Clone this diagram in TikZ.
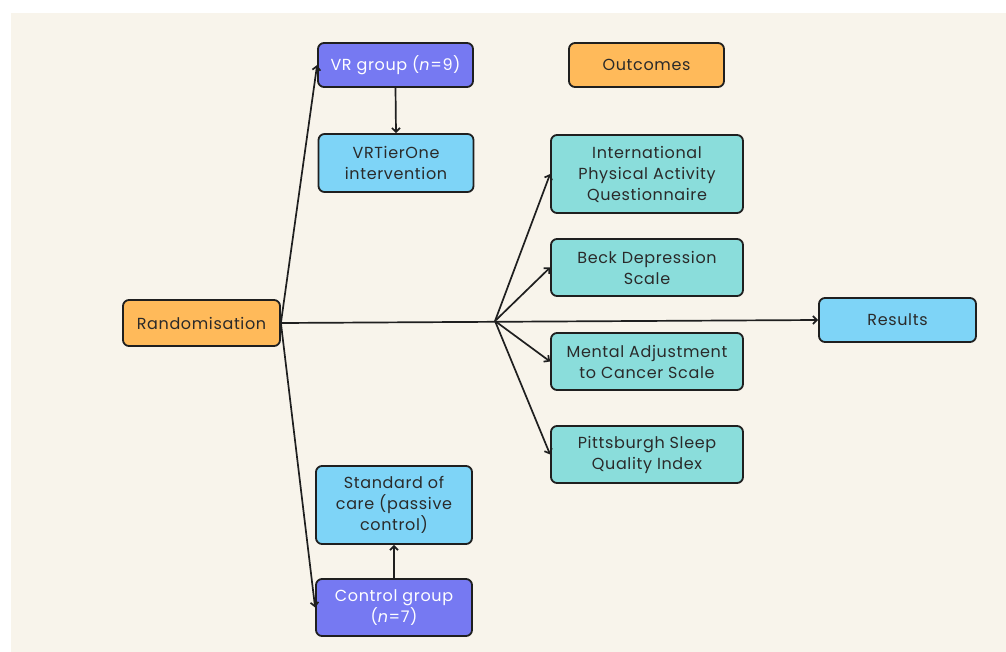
\documentclass[tikz,border=0pt]{standalone}
\usepackage{fontspec}
\setmainfont[LetterSpace=4]{Poppins}
\usetikzlibrary{arrows.meta}
\definecolor{bgc}{HTML}{F8F4EB}
\definecolor{peri}{HTML}{7679F2}
\definecolor{lblue}{HTML}{7ED4F7}
\definecolor{teal2}{HTML}{8ADDDB}
\definecolor{orng}{HTML}{FFBA5A}
\definecolor{edge}{HTML}{1F1F1F}
\definecolor{txt}{HTML}{2A2A2A}
\tikzset{
  box/.style={draw=edge, line width=1.8pt, rounded corners=6pt, align=center,
    font=\fontsize{16}{21}\selectfont, text=txt, inner sep=2pt},
  grp/.style={box, fill=peri, text=white},
  act/.style={box, fill=lblue},
  meas/.style={box, fill=teal2},
  key/.style={box, fill=orng},
  arr/.style={line width=1.7pt, draw=edge, -{Straight Barb[length=4pt,width=8pt]}}
}
\begin{document}
\begin{tikzpicture}[x=1pt,y=-1pt]
\useasboundingbox (0,0) rectangle (1006,652);
\fill[bgc] (11,13) rectangle (1006,652);

\node[key, minimum width=157pt, minimum height=46pt] (rand) at (201.5,323) {Randomisation};
\node[grp, minimum width=155pt, minimum height=44pt] (vr) at (395.5,65) {VR group (\textit{n}=9)};
\node[act, minimum width=155pt, minimum height=58pt] (vrt) at (396,163) {VRTierOne\\intervention};
\node[key, minimum width=155pt, minimum height=44pt] (out) at (646.5,65) {Outcomes};
\node[meas, minimum width=192pt, minimum height=78pt] (ipaq) at (647,174) {International\\Physical Activity\\Questionnaire};
\node[meas, minimum width=192pt, minimum height=57pt] (beck) at (647,267.5) {Beck Depression\\Scale};
\node[meas, minimum width=192pt, minimum height=57pt] (mac) at (647,361.5) {Mental Adjustment\\to Cancer Scale};
\node[meas, minimum width=192pt, minimum height=57pt] (psqi) at (647,454.5) {Pittsburgh Sleep\\Quality Index};
\node[act, minimum width=157pt, minimum height=44pt] (res) at (897.5,320) {Results};
\node[act, minimum width=156pt, minimum height=78pt] (soc) at (394,505) {Standard of\\care (passive\\control)};
\node[grp, minimum width=156pt, minimum height=57pt] (ctrl) at (394,607.5) {Control group\\(\textit{n}=7)};

\coordinate (hub) at (495,321);

\draw[arr] (rand.east) -- (vr.west);
\draw[arr] (rand.east) -- (ctrl.west);
\draw[arr] (rand.east) -- (res.west);
\draw[arr] (vr.south) -- (vrt.north);
\draw[arr] (ctrl.north) -- (soc.south);
\draw[arr] (hub) -- (ipaq.west);
\draw[arr] (hub) -- (beck.west);
\draw[arr] (hub) -- (mac.west);
\draw[arr] (hub) -- (psqi.west);
\end{tikzpicture}
\end{document}
